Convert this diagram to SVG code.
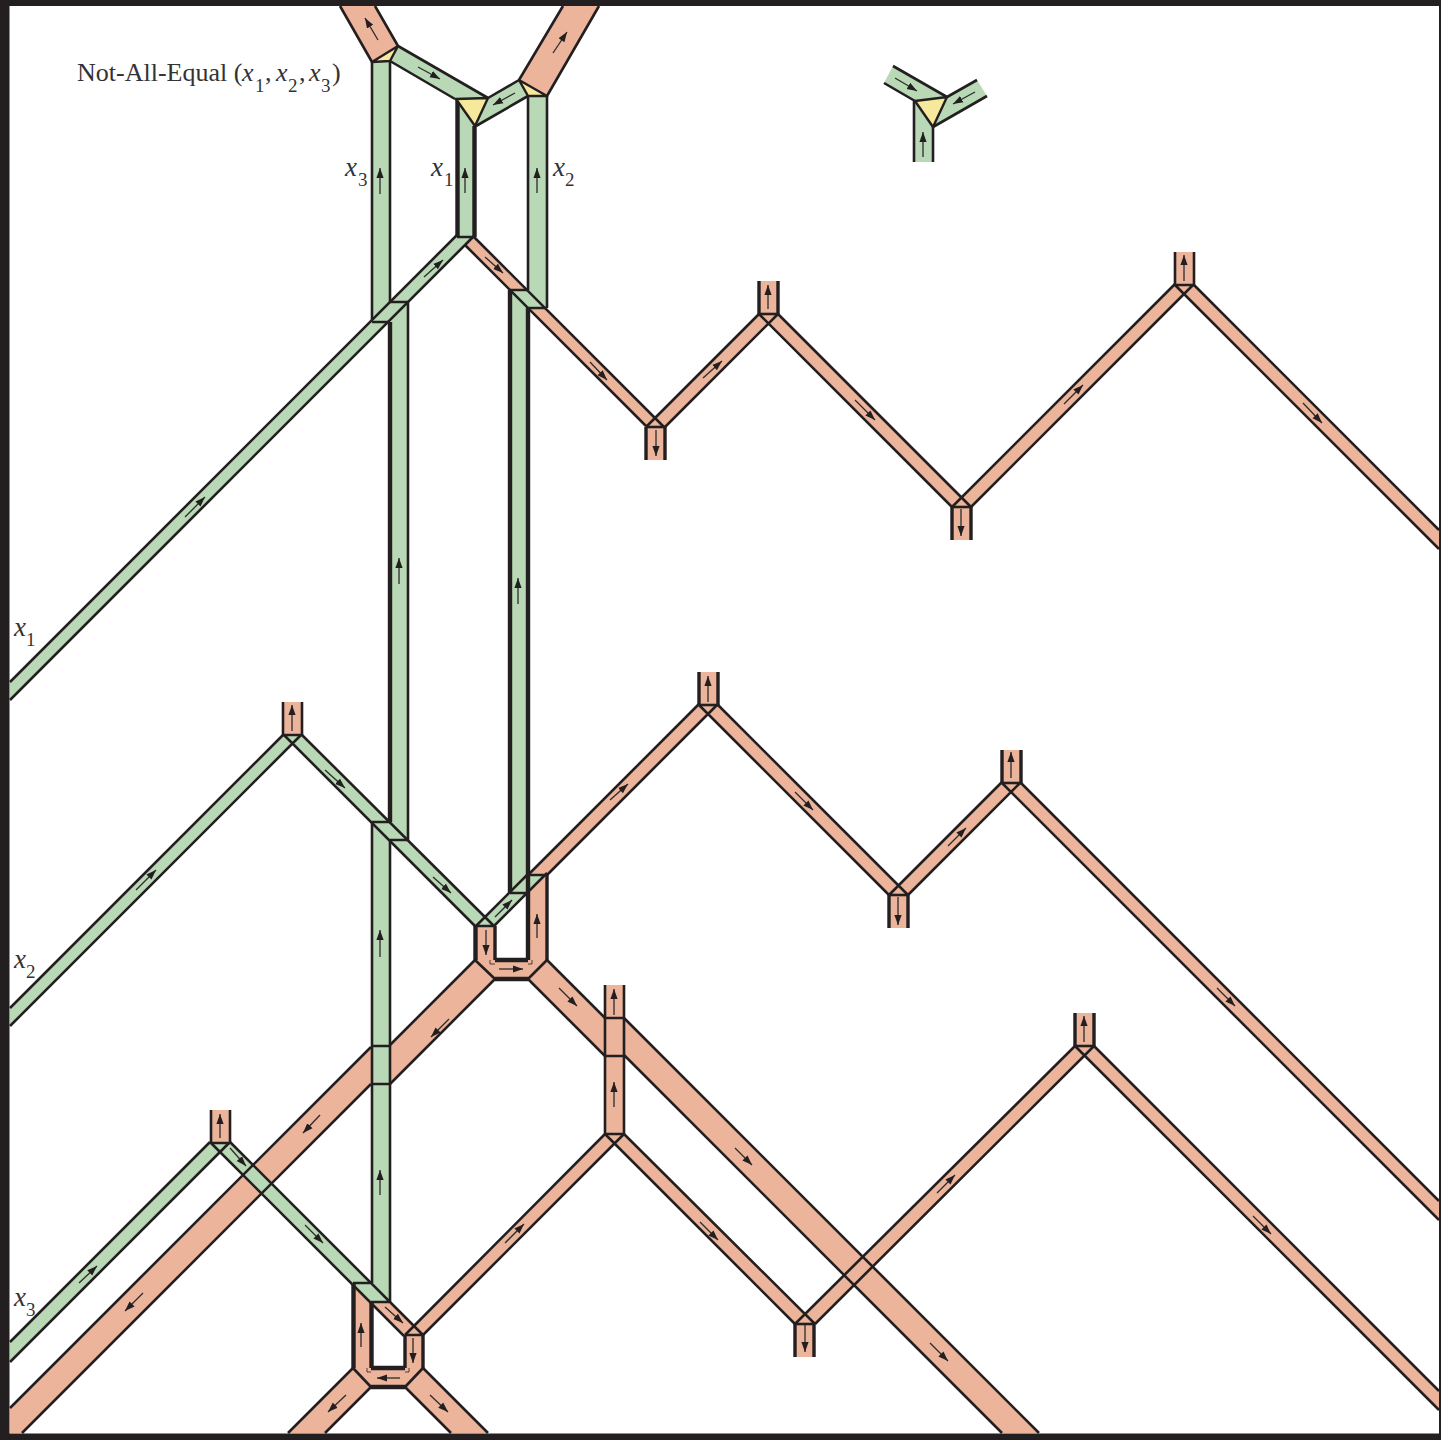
<svg xmlns="http://www.w3.org/2000/svg" xmlns:xlink="http://www.w3.org/1999/xlink" width="1441" height="1440" viewBox="0 0 1441 1440">
<style>
.r{fill:#ebb49b;stroke:none}
.g{fill:#b9d8b5;stroke:none}
.y{fill:#f6e99c;stroke:#231f20;stroke-width:2.4;stroke-linejoin:round}
.e{fill:none;stroke:#231f20;stroke-width:2.6}
.t{fill:none;stroke:#231f20;stroke-width:4.4}
.m{fill:none;stroke:#231f20;stroke-width:3.4}
.n{fill:none;stroke:#231f20;stroke-width:.8}
.a path{fill:none;stroke:#2b2b2b;stroke-width:1.3;marker-end:url(#h)}
text{font-family:"Liberation Serif","Times New Roman",serif;fill:#333}
.ti{font-size:26px}
.v{font-size:27px;font-style:italic}
.s{font-size:19px;font-style:normal}
</style>
<defs>
<marker id="h" markerUnits="userSpaceOnUse" markerWidth="11" markerHeight="9" refX="10" refY="4" orient="auto"><path d="M0,0.4 L10,4 L0,7.6 Z" fill="#231f20"/></marker>
<g id="up"><rect width="19" height="33" fill="#ebb49b"/><path class="m" d="M0,0V33M19,0V33"/><path class="e" d="M0,33H19"/></g>
<g id="upt"><rect width="19" height="33" fill="#ebb49b"/><path class="e" d="M0,0V33M19,0V33M0,33H19"/></g>
<g id="dn"><rect width="19" height="33" fill="#ebb49b"/><path class="m" d="M0,0V33M19,0V33"/><path class="e" d="M0,0H19"/></g>
</defs>
<rect width="1441" height="1440" fill="#fff"/>

<g id="red-fills">
<polygon class="r" points="474,237 655,418 759,314 778,314 961,497 1175,285 1194,285 1439,530 1439,549 1184,294 971,507 952,507 768,323 665,427 646,427 465,245"/>
<polygon class="r" points="528,875 699,705 718,705 898,885 1002,783 1021,783 1439,1201 1439,1220 1011,792 908,895 889,895 708,714 547,875"/>
<polygon class="r" points="413,1325 605,1134 624,1134 805,1315 1075,1046 1094,1046 1439,1391 1439,1410 1084,1055 815,1324 795,1324 614,1143 423,1335 405,1335"/>
<polygon class="r" points="528,960 547,960 605,1018 605,1056 528,979"/>
<polygon class="r" points="624,1018 1039,1433 1002,1433 624,1055"/>
<polygon class="r" points="475,960 547,960 528,979 495,979 390,1084 372,1084 22,1433 10,1433 10,1407 371,1047 390,1045"/>
<polygon class="r" points="528,875 547,875 547,960 528,960"/>
<polygon class="r" points="475,926 495,926 495,960 475,960"/>
<polygon class="r" points="353,1284 371,1302 371,1368 353,1368"/>
<polygon class="r" points="371,1302 390,1302 423,1335 405,1335"/>
<polygon class="r" points="405,1335 423,1335 423,1368 405,1368"/>
<polygon class="r" points="353,1368 423,1368 405,1387 371,1387"/>
<polygon class="r" points="353,1368 371,1387 325,1433 288,1433"/>
<polygon class="r" points="423,1368 405,1387 451,1433 488,1433"/>
<polygon class="r" points="340,6 375,6 398,46 372,62"/>
<polygon class="r" points="519,80 563,6 599,6 547,96"/>
</g>

<g id="green-fills">
<polygon class="g" points="10,682 457,235 474,236 465,245 10,700"/>
<polygon class="g" points="10,1008 283,735 302,735 485,917 528,875 547,875 528,893 494,926 475,926 292,743 10,1025"/>
<polygon class="g" points="10,1342 210,1142 230,1142 390,1302 371,1302 220,1152 10,1362"/>
<polygon class="g" points="372,62 390,61 390,302 408,302 390,320 372,320"/>
<polygon class="g" points="457,99 475,99 475,237 457,237"/>
<polygon class="g" points="528,96 547,96 547,308 528,290"/>
<polygon class="g" points="510,290 528,290 547,308 528,308 528,893 510,893"/>
<polygon class="g" points="390,302 408,302 408,841 390,823"/>
<polygon class="g" points="372,823 390,841 390,1302 372,1283"/>
<polygon class="g" points="398,46 488,98 455,99 390,61"/>
<polygon class="g" points="519,80 528,96 476,126 488,98"/>
</g>

<g id="connectors">
<path class="e" d="M474,237L665,428M465,245L646,426M646,427L759,314M665,427L778,314M778,314L971,507M759,314L952,507M952,507L1175,284M971,507L1194,284M1194,285L1439,530M1175,285L1439,549"/>
<path class="e" d="M528,875L699,704M547,875L718,704M718,705L908,895M699,705L889,895M889,895L1002,782M908,895L1021,782M1021,783L1439,1201M1002,783L1439,1220"/>
<path class="e" d="M405,1335L605,1134M423,1335L624,1134M624,1134L815,1324M605,1134L795,1324M795,1324L1075,1046M815,1324L1094,1046M1094,1046L1439,1391M1075,1046L1439,1410"/>
<path class="e" d="M547,960L605,1018M528,979L605,1056M624,1018L1039,1433M624,1055L1002,1433M475,960L390,1045M495,979L390,1084M371,1047L10,1408M371,1084L22,1433"/>
<path class="e" d="M353,1368L288,1433M371,1387L325,1433M353,1368L371,1387M423,1368L488,1433M405,1387L451,1433M423,1368L405,1387M475,960L495,979M547,960L528,979"/>
<path class="e" d="M10,682L457,235M10,700L474,236M457,237H474"/>
<path class="e" d="M10,1008L283,735M10,1026L301,735M302,735L494,926M283,734L475,926M476,926L528,874M494,926L547,873M528,875H547M510,893H528M475,926H495"/>
<path class="e" d="M10,1342L210,1142M10,1362L230,1142M230,1142L423,1335M210,1142L404,1336M353,1283H372M371,1302H390M405,1335H423"/>
<path class="e" d="M372,322H390M390,302H408M372,822H390M390,840H408M372,1046H390M372,1084H390M510,290H528M528,308H547"/>
<path class="e" d="M372,62V320M390,61V302M528,96V290M547,96V308M408,302V841M372,822V1283M390,840V1302"/>
<path class="e" d="M340,6L372,62M375,6L398,46M519,80L563,6M547,96L599,6M398,46L488,98M390,61L455,99M519,80L488,98M528,96L476,126"/>
<path class="t" d="M457.5,100V237M474.5,126V237M390,322V822M510,290V893M528,308V875M528,875V960M353.5,1284V1368M371.5,1302V1368M475.5,926V960M495,960H528M495,979H528M371,1368H405M371,1387H405"/>
<path class="m" d="M495,926V960M547,875V960M405,1335V1368M423,1335V1368"/>
<path class="n" d="M490,960V964H495M528,964H532V960M367,1368V1372H371M405,1372H409V1368M457,101H460V104"/>
</g>

<g id="yellow-joints">
<polygon class="y" points="372,62 398,46 390,61"/>
<polygon class="y" points="519,80 547,96 528,96"/>
<polygon class="y" points="456,99 488,98 475,126"/>
</g>

<g id="stubs">
<use xlink:href="#dn" href="#dn" x="646" y="427"/>
<use xlink:href="#up" href="#up" x="759" y="281"/>
<use xlink:href="#dn" href="#dn" x="952" y="507"/>
<use xlink:href="#upt" href="#upt" x="1175" y="252"/>
<use xlink:href="#upt" href="#upt" x="283" y="702"/>
<use xlink:href="#up" href="#up" x="699" y="672"/>
<use xlink:href="#dn" href="#dn" x="889" y="895"/>
<use xlink:href="#up" href="#up" x="1002" y="750"/>
<use xlink:href="#upt" href="#upt" x="211" y="1110"/>
<use xlink:href="#dn" href="#dn" x="795" y="1324"/>
<use xlink:href="#up" href="#up" x="1075" y="1013"/>
<rect x="605" y="985" width="19" height="149" fill="#ebb49b"/>
<path class="e" d="M605,985V1134M624,985V1134M605,1018H624M605,1056H624M605,1134H624"/>
</g>

<g id="legend-joint">
<polygon class="g" points="893,66 947,97 915,101 884,83"/>
<polygon class="g" points="977,80 987,96 933,127 947,97"/>
<polygon class="g" points="914,101 933,101 933,162 914,162"/>
<path class="e" d="M893,66L947,97M884,83L915,101M977,80L947,97M987,96L933,127M914,101V162M933,127V162"/>
<polygon class="y" points="915,101 947,97 933,127"/>
</g>

<g id="arrows" class="a">
<path d="M378,40L365,18"/><path d="M553,53L567,32"/><path d="M418,67L440,79"/><path d="M515,93L493,105"/><path d="M380,194V168"/><path d="M465,193V168"/><path d="M537,193V168"/><path d="M485,257L503,273"/><path d="M424,277L443,260"/>
<path d="M185,517L205,497"/><path d="M399,584V558"/><path d="M518,604V578"/><path d="M590,362L607,380"/><path d="M703,378L722,361"/><path d="M855,400L875,420"/><path d="M1064,404L1083,385"/><path d="M1303,403L1322,423"/><path d="M656,430V456"/><path d="M768,309V285"/><path d="M961,509V536"/><path d="M1184,281V255"/>
<path d="M292,731V705"/><path d="M136,890L156,870"/><path d="M325,770L345,788"/><path d="M433,877L451,893"/><path d="M495,917L512,900"/><path d="M486,930V955"/><path d="M537,938V914"/><path d="M499,969H523"/><path d="M559,988L577,1006"/><path d="M614,1015V989"/><path d="M614,1107V1082"/>
<path d="M610,800L628,784"/><path d="M795,792L813,810"/><path d="M708,702V676"/><path d="M948,846L966,828"/><path d="M1011,778V752"/><path d="M898,897V925"/><path d="M1217,988L1235,1006"/><path d="M380,957V930"/><path d="M380,1195V1170"/>
<path d="M449,1019L431,1037"/><path d="M320,1115L303,1133"/><path d="M143,1293L125,1311"/><path d="M735,1148L752,1165"/><path d="M930,1343L948,1361"/>
<path d="M79,1283L97,1266"/><path d="M220,1138V1114"/><path d="M230,1148L246,1166"/><path d="M305,1225L323,1243"/><path d="M385,1307L403,1323"/><path d="M413,1338V1363"/><path d="M361,1347V1323"/><path d="M400,1378H377"/><path d="M346,1395L328,1412"/><path d="M430,1395L448,1412"/>
<path d="M505,1243L524,1224"/><path d="M700,1222L718,1240"/><path d="M937,1193L955,1175"/><path d="M805,1325V1352"/><path d="M1084,1042V1016"/><path d="M1253,1216L1271,1234"/>
<path d="M895,78L917,91"/><path d="M975,92L953,104"/><path d="M923,157V132"/>
</g>

<g id="labels">
<text class="ti" y="81"><tspan x="77">Not-All-Equal (</tspan><tspan x="242" font-style="italic">x</tspan><tspan x="255" dy="11" class="s">1</tspan><tspan x="265" dy="-11">,</tspan><tspan x="276" font-style="italic">x</tspan><tspan x="288" dy="11" class="s">2</tspan><tspan x="299" dy="-11">,</tspan><tspan x="309" font-style="italic">x</tspan><tspan x="321" dy="11" class="s">3</tspan><tspan x="332" dy="-11">)</tspan></text>
<text class="v" y="176"><tspan x="345">x</tspan><tspan x="358" dy="10" class="s">3</tspan></text>
<text class="v" y="176"><tspan x="431">x</tspan><tspan x="444" dy="10" class="s">1</tspan></text>
<text class="v" y="176"><tspan x="553">x</tspan><tspan x="565" dy="10" class="s">2</tspan></text>
<text class="v" y="636"><tspan x="14">x</tspan><tspan x="26" dy="10" class="s">1</tspan></text>
<text class="v" y="968"><tspan x="14">x</tspan><tspan x="26" dy="10" class="s">2</tspan></text>
<text class="v" y="1306"><tspan x="14">x</tspan><tspan x="26" dy="10" class="s">3</tspan></text>
</g>

<g id="frame" fill="#231f20">
<rect x="0" y="0" width="1441" height="6"/>
<rect x="0" y="0" width="9.5" height="1440"/>
<rect x="0" y="1433.5" width="1441" height="6.5"/>
<rect x="1439" y="0" width="2" height="1440"/>
</g>
</svg>
